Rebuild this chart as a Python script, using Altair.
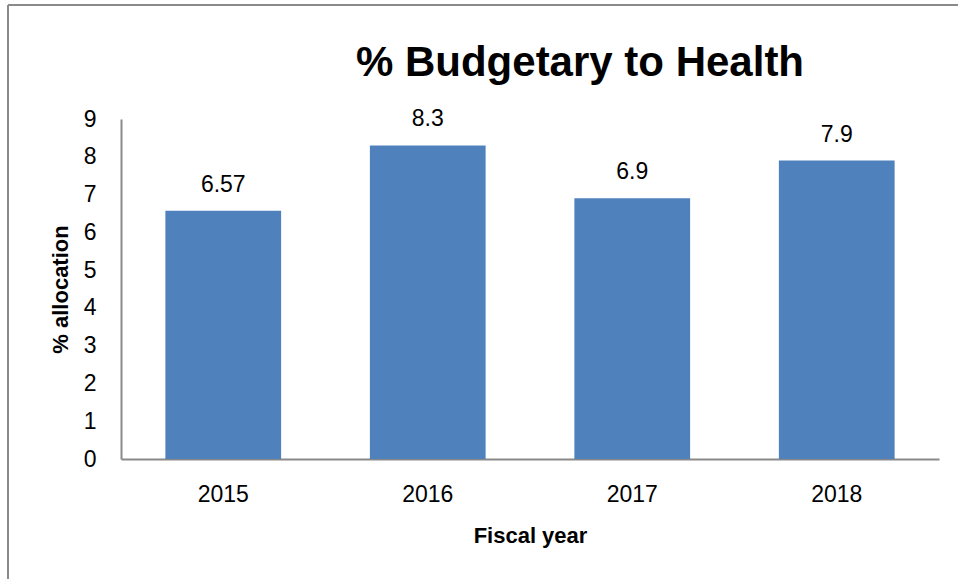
import altair as alt
import pandas as pd

years = ["2015", "2016", "2017", "2018"]
values = [6.57, 8.3, 6.9, 7.9]
labels = ["6.57", "8.3", "6.9", "7.9"]
title_text = ["% Budgetary to Health"]

df = pd.DataFrame({"year": years, "value": values, "label": labels})
tdf = pd.DataFrame({"t": title_text})

W, H = 818, 340
LEFT, TOP = 121, 119
FONT = "Liberation Sans"

x_enc = alt.X(
    "year:N",
    sort=years,
    scale=alt.Scale(paddingInner=0.434, paddingOuter=0.217),
    axis=alt.Axis(
        title="Fiscal year", labelAngle=0, ticks=False, labelPadding=24,
        labelFontSize=23, labelFont=FONT, labelColor="#000000",
        titleFontSize=22, titleFont=FONT, titleFontWeight="bold", titleColor="#000000",
        titleX=W / 2, titleY=83, titleBaseline="alphabetic",
        domainColor="#898989", domainWidth=2, grid=False,
    ),
)
y_enc = alt.Y(
    "value:Q",
    scale=alt.Scale(domain=[0, 9], nice=False),
    axis=alt.Axis(
        title="% allocation", values=list(range(10)), tickCount=10, ticks=False, labelPadding=25,
        labelOverlap=False, labelFontSize=23, labelFont=FONT, labelColor="#000000",
        titleFontSize=22, titleFont=FONT, titleFontWeight="bold", titleColor="#000000",
        titleAngle=-90, titleX=-54, titleY=H / 2, titleBaseline="alphabetic",
        domainColor="#898989", domainWidth=2, grid=False,
    ),
)

base = alt.Chart(df).encode(x=x_enc, y=y_enc)
bars = base.mark_bar(color="#4F81BD")
text = base.mark_text(baseline="alphabetic", dy=-19, fontSize=23, font=FONT, color="#000000").encode(
    text="label:N"
)

title = alt.Chart(tdf).mark_text(
    fontSize=42, font=FONT, fontWeight="bold", color="#000000",
    align="center", baseline="alphabetic",
).encode(x=alt.value(580 - LEFT), y=alt.value(76 - TOP), text="t:N")

frame_left = alt.Chart(tdf).mark_rule(color="#8a8a8a", strokeWidth=2, clip=False).encode(
    x=alt.value(8 - LEFT), y=alt.value(5 - TOP), y2=alt.value(579 - TOP)
)
frame_top = alt.Chart(tdf).mark_rule(color="#8a8a8a", strokeWidth=2, clip=False).encode(
    x=alt.value(8 - LEFT), x2=alt.value(958 - LEFT), y=alt.value(5 - TOP)
)

chart = alt.layer(bars, text, title, frame_left, frame_top).properties(
    width=W,
    height=H,
    autosize=alt.AutoSizeParams(type="none"),
    padding={"left": LEFT, "top": TOP, "right": 958 - LEFT - W, "bottom": 579 - TOP - H},
).configure(background="white").configure_view(strokeWidth=0, strokeOpacity=0)

chart.save("out.html", embed_options={"renderer": "svg", "actions": False})
